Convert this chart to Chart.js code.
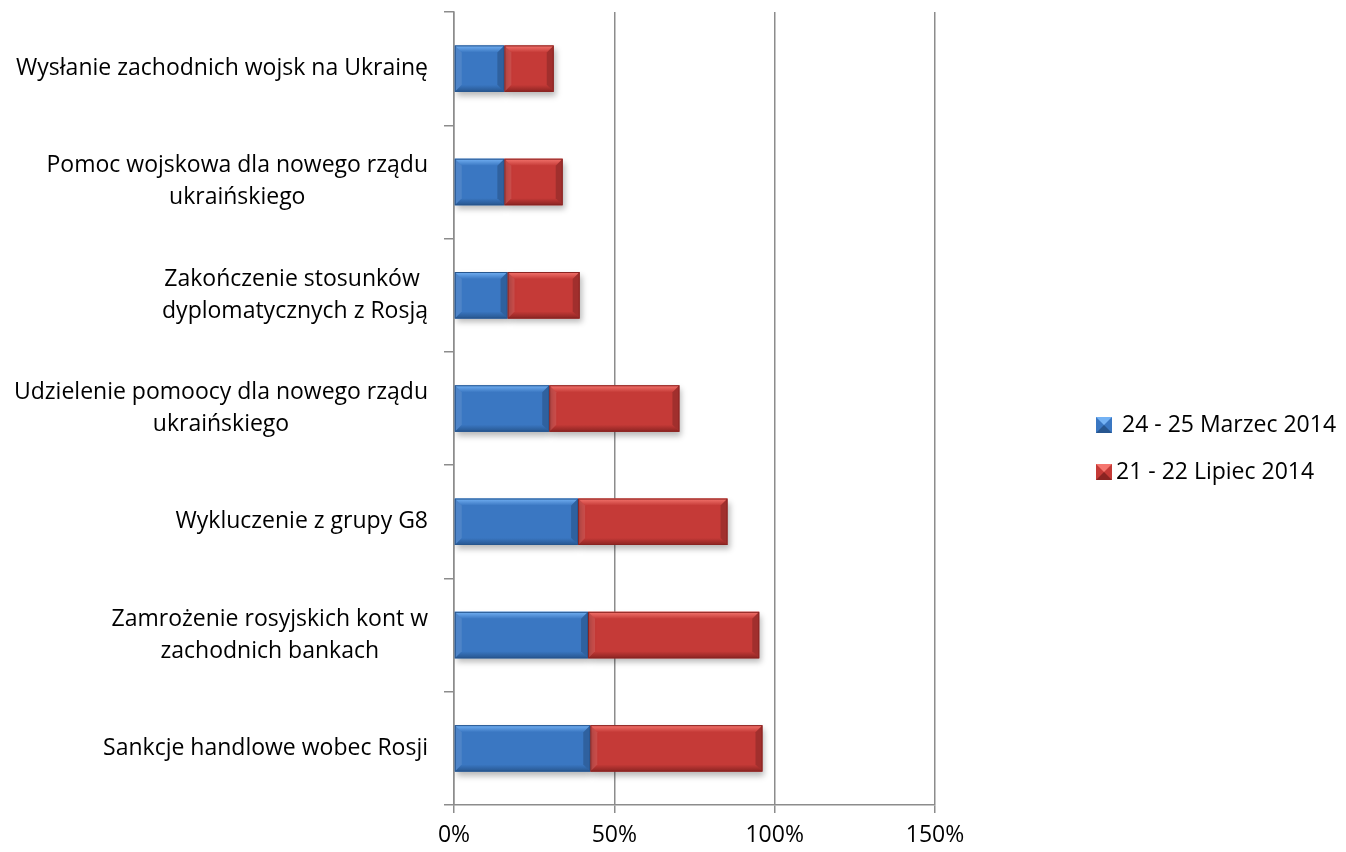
<!DOCTYPE html>
<html>
<head>
<meta charset="utf-8">
<script src="https://cdn.jsdelivr.net/npm/chart.js@4/dist/chart.umd.min.js"></script>
<style>
  html, body { margin: 0; padding: 0; background: #fff; }
  #wrap { width: 1346px; height: 852px; position: relative; }
</style>
</head>
<body>
<div id="wrap"><canvas id="chart"></canvas></div>
<script>
// ── dane ──
const categories = [
  ["Wysłanie zachodnich wojsk na Ukrainę"],
  ["Pomoc wojskowa dla nowego rządu", "ukraińskiego"],
  ["Zakończenie stosunków ", "dyplomatycznych z Rosją"],
  ["Udzielenie pomoocy dla nowego rządu", "ukraińskiego"],
  ["Wykluczenie z grupy G8"],
  ["Zamrożenie rosyjskich kont w", "zachodnich bankach"],
  ["Sankcje handlowe wobec Rosji"]
];
const seriesNames = [" 24 - 25 Marzec 2014", "21 - 22 Lipiec 2014"];
const marzec = [0.157, 0.157, 0.167, 0.297, 0.387, 0.418, 0.425];
const lipiec = [0.154, 0.182, 0.225, 0.406, 0.466, 0.534, 0.537];
const xTicks = [0, 0.5, 1.0, 1.5];

const FONT = "'Open Sans', Lato, sans-serif";
const FSIZE = 23;
const GRID = '#8c8c8c';

// kolory słupków (główny, jasny, ciemny)
const palette = [
  { main: '#3a77c2', light: '#74b2f4', dark: '#27568f' },
  { main: '#c53a37', light: '#f5766f', dark: '#8a2422' }
];

// ── wypukłe (bevel) słupki + cień ──
const bevelBars = {
  id: 'bevelBars',
  beforeDatasetsDraw(chart) {
    const ctx = chart.ctx;
    ctx.save();
    ctx.shadowColor = 'rgba(0,0,0,0.28)';
    ctx.shadowBlur = 6;
    ctx.shadowOffsetX = 2;
    ctx.shadowOffsetY = 4;
  },
  afterDatasetsDraw(chart) {
    const ctx = chart.ctx;
    ctx.restore();
    const b = 7;
    chart.data.datasets.forEach((ds, i) => {
      const pal = palette[i];
      chart.getDatasetMeta(i).data.forEach(bar => {
        const x0 = Math.min(bar.base, bar.x), x1 = Math.max(bar.base, bar.x);
        const y0 = bar.y - bar.height / 2, y1 = bar.y + bar.height / 2;
        ctx.save();
        // góra
        let g = ctx.createLinearGradient(0, y0, 0, y0 + b);
        g.addColorStop(0, pal.light); g.addColorStop(1, pal.main);
        ctx.fillStyle = g;
        ctx.beginPath();
        ctx.moveTo(x0, y0); ctx.lineTo(x1, y0); ctx.lineTo(x1 - b, y0 + b); ctx.lineTo(x0 + b, y0 + b);
        ctx.closePath(); ctx.fill();
        // dół
        g = ctx.createLinearGradient(0, y1 - b, 0, y1);
        g.addColorStop(0, pal.main); g.addColorStop(1, pal.dark);
        ctx.fillStyle = g;
        ctx.beginPath();
        ctx.moveTo(x0, y1); ctx.lineTo(x1, y1); ctx.lineTo(x1 - b, y1 - b); ctx.lineTo(x0 + b, y1 - b);
        ctx.closePath(); ctx.fill();
        // lewo
        ctx.fillStyle = 'rgba(255,255,255,0.10)';
        ctx.beginPath();
        ctx.moveTo(x0, y0); ctx.lineTo(x0 + b, y0 + b); ctx.lineTo(x0 + b, y1 - b); ctx.lineTo(x0, y1);
        ctx.closePath(); ctx.fill();
        // prawo
        ctx.fillStyle = 'rgba(0,0,0,0.18)';
        ctx.beginPath();
        ctx.moveTo(x1, y0); ctx.lineTo(x1 - b, y0 + b); ctx.lineTo(x1 - b, y1 - b); ctx.lineTo(x1, y1);
        ctx.closePath(); ctx.fill();
        // obrys
        ctx.strokeStyle = pal.dark;
        ctx.lineWidth = 1;
        ctx.strokeRect(x0 + 0.5, y0 + 0.5, x1 - x0 - 1, y1 - y0 - 1);
        ctx.restore();
      });
    });
  }
};

// ── etykiety kategorii (linie wyśrodkowane, blok do prawej) + legenda ──
const labelsAndLegend = {
  id: 'labelsAndLegend',
  afterDraw(chart) {
    const ctx = chart.ctx;
    const yScale = chart.scales.y;
    ctx.save();
    ctx.font = FSIZE + 'px ' + FONT;
    ctx.fillStyle = '#000';
    ctx.textBaseline = 'middle';
    ctx.textAlign = 'center';
    const right = 428, lh = 32;
    categories.forEach((lines, i) => {
      const yc = yScale.getPixelForTick(i);
      const w = Math.max(...lines.map(l => ctx.measureText(l.trimEnd()).width));
      const cx = right - w / 2;
      lines.forEach((l, j) => {
        ctx.fillText(l, cx, yc + (j - (lines.length - 1) / 2) * lh);
      });
    });

    // legenda
    ctx.textAlign = 'left';
    const legY = [425, 472];
    seriesNames.forEach((name, i) => {
      const pal = palette[i];
      const sx = 1096, sy = legY[i] - 8, s = 16;
      ctx.fillStyle = pal.main;
      ctx.fillRect(sx, sy, s, s);
      ctx.fillStyle = pal.light;
      ctx.beginPath(); ctx.moveTo(sx, sy); ctx.lineTo(sx + s, sy); ctx.lineTo(sx + s / 2, sy + s / 2); ctx.closePath(); ctx.fill();
      ctx.fillStyle = pal.dark;
      ctx.beginPath(); ctx.moveTo(sx, sy + s); ctx.lineTo(sx + s, sy + s); ctx.lineTo(sx + s / 2, sy + s / 2); ctx.closePath(); ctx.fill();
      ctx.fillStyle = '#000';
      ctx.fillText(name, 1116, legY[i]);
    });
    ctx.restore();
  }
};

new Chart(document.getElementById('chart'), {
  type: 'bar',
  data: {
    labels: categories,
    datasets: [
      { label: seriesNames[0], data: marzec, backgroundColor: palette[0].main, borderWidth: 0 },
      { label: seriesNames[1], data: lipiec, backgroundColor: palette[1].main, borderWidth: 0 }
    ]
  },
  options: {
    indexAxis: 'y',
    responsive: true,
    maintainAspectRatio: false,
    animation: false,
    layout: { padding: { top: 12, right: 411, left: 0, bottom: 0 } },
    categoryPercentage: 0.41,
    barPercentage: 1.0,
    scales: {
      x: {
        stacked: true,
        min: 0,
        max: 1.5,
        afterBuildTicks: s => { s.ticks = xTicks.map(v => ({ value: v })); },
        afterFit: s => { s.height = 47; },
        ticks: {
          color: '#000',
          font: { family: FONT, size: FSIZE },
          padding: 9,
          callback: v => Math.round(v * 100) + '%'
        },
        grid: { color: GRID, lineWidth: 1.5, tickLength: 8 },
        border: { color: GRID, width: 1.5 }
      },
      y: {
        stacked: true,
        afterFit: s => { s.width = 454; },
        ticks: { display: false },
        grid: { offset: true, drawOnChartArea: false, color: GRID, lineWidth: 1.5, tickLength: 10 },
        border: { color: GRID, width: 1.5 }
      }
    },
    plugins: {
      legend: { display: false },
      tooltip: { enabled: false }
    }
  },
  plugins: [bevelBars, labelsAndLegend]
});
</script>
</body>
</html>
